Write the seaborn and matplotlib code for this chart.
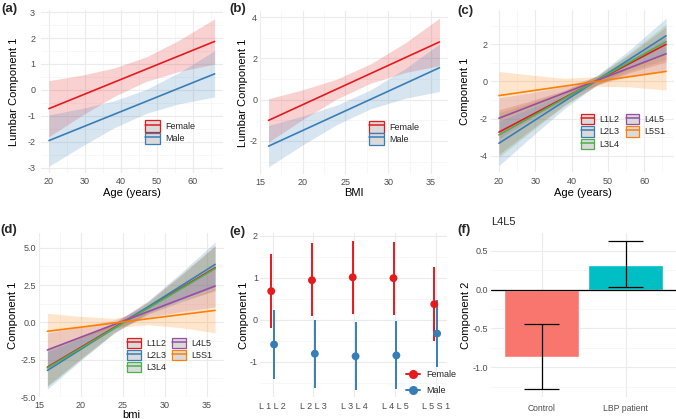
import numpy as np
import pandas as pd
import matplotlib
matplotlib.use("Agg")
import matplotlib.pyplot as plt
import seaborn as sns
from matplotlib.patches import Patch
from matplotlib.lines import Line2D
from matplotlib.ticker import MultipleLocator, NullLocator, FormatStrFormatter

sns.set_theme(style="white")
plt.rcParams["font.family"] = ["Liberation Sans", "DejaVu Sans"]
plt.rcParams["axes.unicode_minus"] = False

RED, BLUE, GREEN, PURPLE, ORANGE = "#E41A1C", "#377EB8", "#4DAF4A", "#984EA3", "#FF7F00"

# ---- (a) component vs age by sex ----
sexes = ["Female", "Male"]
sex_colors = {"Female": RED, "Male": BLUE}
age_ends = [20, 66]
age_grid = [20, 29, 38, 47, 56, 66]
fit_a = {"Female": [-0.72, 1.87], "Male": [-1.95, 0.62]}
hw_a = {"Female": [1.08, 0.78, 0.55, 0.47, 0.60, 0.87],
        "Male": [0.99, 0.73, 0.52, 0.46, 0.60, 0.89]}

# ---- (b) component vs BMI by sex ----
bmi_ends = [16, 36]
bmi_grid = [16, 20, 24, 28, 32, 36]
fit_b = {"Female": [-1.0, 2.8], "Male": [-2.25, 1.55]}
hw_b = {"Female": [1.05, 0.72, 0.48, 0.47, 0.72, 1.15],
        "Male": [1.0, 0.70, 0.47, 0.46, 0.72, 1.15]}

# ---- (c) component vs age by level ----
levels = ["L1L2", "L2L3", "L3L4", "L4L5", "L5S1"]
level_colors = {"L1L2": RED, "L2L3": BLUE, "L3L4": GREEN, "L4L5": PURPLE, "L5S1": ORANGE}
fit_c = {"L1L2": [-2.73, 2.0], "L2L3": [-3.33, 2.46], "L3L4": [-2.88, 2.14],
         "L4L5": [-1.98, 1.49], "L5S1": [-0.76, 0.54]}
hw_c = {"L1L2": [1.2, 0.78, 0.40, 0.25, 0.50, 0.95],
        "L2L3": [1.2, 0.78, 0.40, 0.25, 0.50, 0.95],
        "L3L4": [1.2, 0.78, 0.40, 0.25, 0.50, 0.95],
        "L4L5": [1.1, 0.70, 0.36, 0.22, 0.45, 0.90],
        "L5S1": [1.3, 0.85, 0.42, 0.26, 0.55, 1.0]}

# ---- (d) component vs bmi by level ----
fit_d = {"L1L2": [-3.0, 3.65], "L2L3": [-3.22, 3.88], "L3L4": [-3.05, 3.6],
         "L4L5": [-1.85, 2.43], "L5S1": [-0.6, 0.8]}
hw_d = {"L1L2": [1.25, 0.75, 0.32, 0.40, 0.90, 1.5],
        "L2L3": [1.25, 0.75, 0.32, 0.40, 0.90, 1.5],
        "L3L4": [1.25, 0.75, 0.32, 0.40, 0.90, 1.5],
        "L4L5": [1.15, 0.70, 0.30, 0.38, 0.85, 1.4],
        "L5S1": [1.2, 0.72, 0.30, 0.40, 0.88, 1.5]}

# ---- (e) estimates by level and sex ----
level_ticks = ["L 1 L 2", "L 2 L 3", "L 3 L 4", "L 4 L 5", "L 5 S 1"]
female_est = [0.68, 0.94, 1.01, 0.99, 0.37]
female_lo = [-0.19, 0.08, 0.14, 0.12, -0.50]
female_hi = [1.56, 1.82, 1.88, 1.86, 1.25]
male_est = [-0.59, -0.81, -0.87, -0.85, -0.33]
male_lo = [-1.40, -1.62, -1.67, -1.66, -1.13]
male_hi = [0.22, 0.00, -0.05, -0.03, 0.48]

# ---- (f) L4L5 component 2 by group ----
groups = ["Control", "LBP patient"]
group_vals = [-0.874, 0.32]
group_lo = [-1.285, 0.03]
group_hi = [-0.446, 0.63]
group_colors = ["#F8766D", "#00BFC4"]

W, H = 676, 419
fig = plt.figure(figsize=(W / 100, H / 100), dpi=100)

TICK = 6.5
TITLE = 8
LEG = 6.5


def add_ax(x0, x1, y0, y1):
    ax = fig.add_axes([x0 / W, 1 - y1 / H, (x1 - x0) / W, (y1 - y0) / H])
    ax._px = (x0, x1, y0, y1)
    return ax


def style(ax, xmaj=None, xmin=None, ymaj=None, ymin=None, ypad=2.5):
    for s in ax.spines.values():
        s.set_visible(False)
    if xmaj:
        ax.xaxis.set_major_locator(MultipleLocator(xmaj))
    if xmin:
        ax.xaxis.set_minor_locator(MultipleLocator(xmin))
    if ymaj:
        ax.yaxis.set_major_locator(MultipleLocator(ymaj))
    if ymin:
        ax.yaxis.set_minor_locator(MultipleLocator(ymin))
    ax.grid(which="major", color="#EBEBEB", lw=0.8)
    ax.grid(which="minor", color="#F4F4F4", lw=0.5)
    ax.set_axisbelow(True)
    ax.tick_params(which="both", length=0, labelsize=TICK, labelcolor="#4D4D4D")
    ax.tick_params(axis="y", pad=ypad)
    ax.tick_params(axis="x", pad=3.2)


def labels(ax, xlab, ylab, xlab_y, ylab_x):
    x0, x1, y0, y1 = ax._px
    if xlab:
        ax.set_xlabel(xlab, fontsize=TITLE, color="black", va="center")
        ax.xaxis.set_label_coords(0.5, (y1 - xlab_y) / (y1 - y0))
    else:
        ax.set_xlabel("")
    ax.set_ylabel(ylab, fontsize=TITLE, color="black", va="center")
    ax.yaxis.set_label_coords((ylab_x - x0) / (x1 - x0), 0.5)


def band_panel(ax, keys, colors, ends, grid, fits, hws):
    rows = []
    for k in keys:
        for x, y in zip(ends, fits[k]):
            rows.append({"x": x, "y": y, "group": k})
        centre = np.interp(grid, ends, fits[k])
        hw = np.array(hws[k])
        ax.fill_between(grid, centre - hw, centre + hw, color=colors[k], alpha=0.2, lw=0)
    df = pd.DataFrame(rows)
    sns.lineplot(data=df, x="x", y="y", hue="group", hue_order=keys, palette=colors,
                 ax=ax, legend=False, lw=1.2)


def key_legend(ax, keys, colors, px, py, ncol=1, hl=1.5, hh=1.35, ls=0.25):
    handles = [(Patch(facecolor="#DADADA", edgecolor=colors[k], lw=0.9),
                Line2D([], [], color=colors[k], lw=1.1)) for k in keys]
    ax.legend(handles, keys, loc="upper left", bbox_to_anchor=(px / W, 1 - py / H),
              bbox_transform=fig.transFigure, frameon=False, fontsize=LEG, ncol=ncol,
              handlelength=hl, handleheight=hh, borderpad=0, borderaxespad=0,
              labelspacing=ls, handletextpad=0.6, columnspacing=0.7)


# (a)
ax = add_ax(40.7, 222.9, 10, 173)
band_panel(ax, sexes, sex_colors, age_ends, age_grid, fit_a, hw_a)
ax.set_xlim(17.7, 68.3)
ax.set_ylim(-3.2, 3.08)
style(ax, 10, 5, 1, 0.5, ypad=4)
labels(ax, "Age (years)", "Lumbar Component 1", 192.5, 14)
key_legend(ax, sexes, sex_colors, 145, 120.5, hl=1.65, hh=1.6, ls=0.05)

# (b)
ax = add_ax(260, 448, 11, 174)
band_panel(ax, sexes, sex_colors, bmi_ends, bmi_grid, fit_b, hw_b)
ax.set_xlim(15, 37)
ax.set_ylim(-3.6, 4.3)
style(ax, 5, 2.5, 2, 1, ypad=2)
labels(ax, "BMI", "Lumbar Component 1", 192.5, 243)
key_legend(ax, sexes, sex_colors, 369, 121, hl=1.65, hh=1.6, ls=0.05)

# (c)
ax = add_ax(490.6, 674.4, 10, 172.4)
band_panel(ax, levels, level_colors, age_ends, age_grid, fit_c, hw_c)
ax.set_xlim(17.7, 68.3)
ax.set_ylim(-4.9, 3.85)
style(ax, 10, 5, 2, 1, ypad=2.5)
labels(ax, "Age (years)", "Component 1", 192.5, 465)
key_legend(ax, levels, level_colors, 580.5, 114, ncol=2)

# (d)
ax = add_ax(39, 223.5, 233.5, 397)
band_panel(ax, levels, level_colors, bmi_ends, bmi_grid, fit_d, hw_d)
ax.set_xlim(15, 37)
ax.set_ylim(-5.0, 5.95)
style(ax, 5, 2.5, 2.5, 1.25, ypad=2)
ax.yaxis.set_major_formatter(FormatStrFormatter("%.1f"))
labels(ax, "bmi", "Component 1", 415, 13)
key_legend(ax, levels, level_colors, 127, 337.5, ncol=2)

# (e)
ax = add_ax(260, 446.7, 233.2, 397.4)
pos = np.arange(len(level_ticks))
dodge = 0.035
ax.vlines(pos - dodge, female_lo, female_hi, color=RED, lw=1.4)
ax.vlines(pos + dodge, male_lo, male_hi, color=BLUE, lw=1.4)
sns.scatterplot(x=pos - dodge, y=female_est, color=RED, s=32, edgecolor="none", ax=ax, zorder=3)
sns.scatterplot(x=pos + dodge, y=male_est, color=BLUE, s=32, edgecolor="none", ax=ax, zorder=3)
ax.set_xlim(-0.31, 4.27)
ax.set_ylim(-1.85, 2.06)
style(ax, None, None, 1, 0.5, ypad=1.5)
ax.set_xticks(pos)
ax.set_xticklabels(level_ticks)
ax.xaxis.set_minor_locator(NullLocator())
labels(ax, None, "Component 1", None, 244)
hs = [Line2D([], [], color=c, marker="o", ms=5.5, lw=1.4) for c in (RED, BLUE)]
ax.legend(hs, sexes, loc="upper left", bbox_to_anchor=(406 / W, 1 - 370 / H),
          bbox_transform=fig.transFigure, frameon=False, fontsize=LEG,
          handlelength=1.6, borderpad=0, borderaxespad=0, labelspacing=0.75, handletextpad=0.6)

# (f)
ax = add_ax(491.3, 676, 233.1, 396.8)
dfF = pd.DataFrame({"group": groups, "value": group_vals})
sns.barplot(data=dfF, x="group", y="value", hue="group", palette=group_colors,
            width=0.9, errorbar=None, legend=False, saturation=1, ax=ax, zorder=2)
gpos = np.arange(len(groups))
ax.vlines(gpos, group_lo, group_hi, color="black", lw=0.9, zorder=4)
ax.hlines(group_lo, gpos - 0.21, gpos + 0.21, color="black", lw=0.9, zorder=4)
ax.hlines(group_hi, gpos - 0.21, gpos + 0.21, color="black", lw=0.9, zorder=4)
ax.axhline(0, color="black", lw=0.9, zorder=3)
ax.set_xlim(-0.6, 1.6)
ax.set_ylim(-1.38, 0.726)
style(ax, None, None, 0.5, 0.25, ypad=2.5)
ax.xaxis.set_minor_locator(NullLocator())
ax.tick_params(axis="x", labelsize=6.2, pad=5)
labels(ax, None, "Component 2", None, 466)
ax.set_title("L4L5", loc="left", fontsize=TITLE, pad=6)

# panel letters
for lab, x, y in [("(a)", 1, 3), ("(b)", 229, 3), ("(c)", 457, 5),
                  ("(d)", 0, 224), ("(e)", 229, 226), ("(f)", 457, 224)]:
    fig.text(x / W, 1 - y / H, lab, fontsize=9.5, fontweight="bold", va="top", ha="left")

fig.savefig("out.png", dpi=100, facecolor="white")
